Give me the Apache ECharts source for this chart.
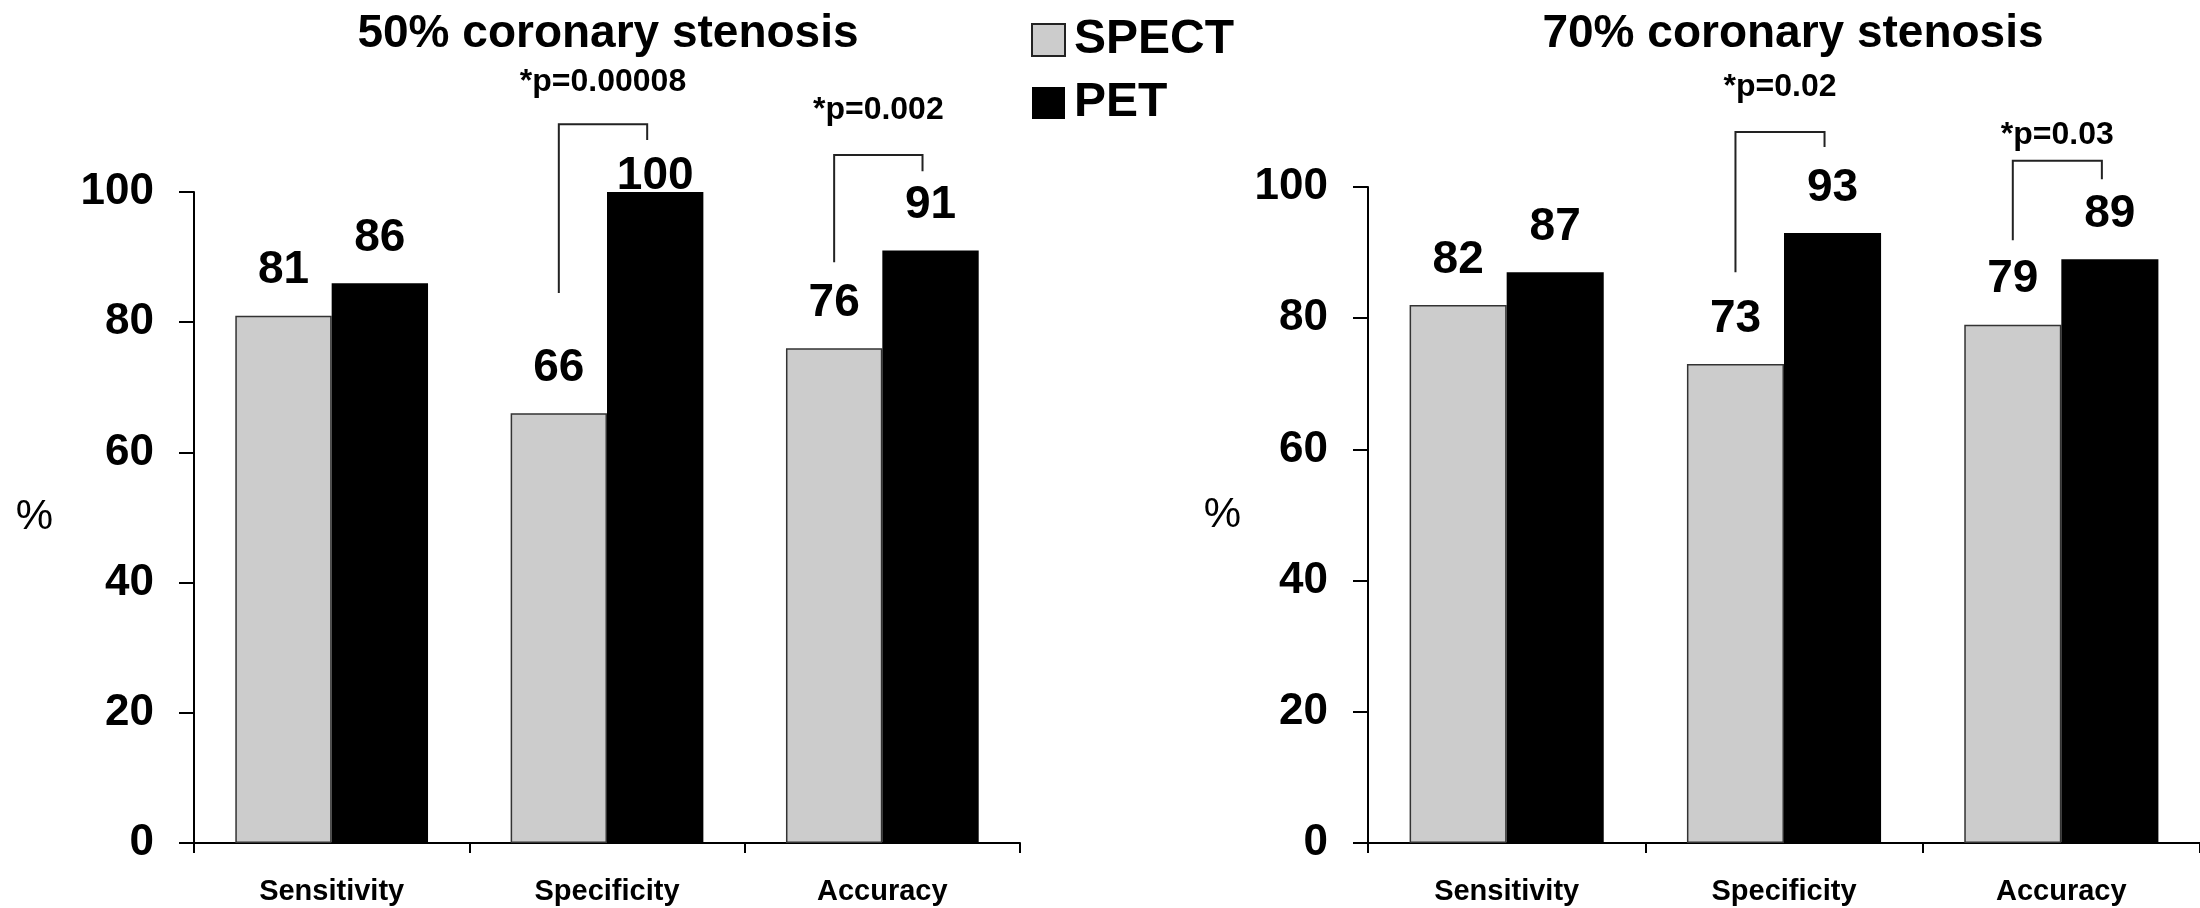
<!DOCTYPE html>
<html>
<head>
<meta charset="utf-8">
<script src="https://cdn.jsdelivr.net/npm/echarts@6/dist/echarts.min.js"></script>
<style>
  html, body { margin: 0; padding: 0; background: #fff; }
  #chart { width: 2200px; height: 908px; }
</style>
</head>
<body>
<div id="chart"></div>
<script>
// ---- data ----
const categories = ['Sensitivity', 'Specificity', 'Accuracy'];
const titles = ['50% coronary stenosis', '70% coronary stenosis'];
const seriesNames = ['SPECT', 'PET'];
const spect50 = [81, 66, 76];
const pet50 = [86, 100, 91];
const spect70 = [82, 73, 79];
const pet70 = [87, 93, 89];
const yTickMax = 100;
const yTickStep = 20;
// brackets: [categoryIndex, leftBottom, top, rightBottom, textY] in value units
const brackets50 = [[1, 84.5, 110.4, 108.0, 116.9], [2, 89.2, 105.7, 103.2, 112.6]];
const pLabels50 = ['*p=0.00008', '*p=0.002'];
const brackets70 = [[1, 87.0, 108.4, 106.1, 115.2], [2, 91.9, 104.0, 101.2, 107.9]];
const pLabels70 = ['*p=0.02', '*p=0.03'];

const FONT = '"Liberation Sans", Arial, Helvetica, sans-serif';
const SPECT_COLOR = '#cccccc';
const PET_COLOR = '#000000';

const chart = echarts.init(document.getElementById('chart'), null, { renderer: 'canvas' });

function valueLabel(values) {
  return values.map(v => v >= yTickMax
    ? { value: v, label: { distance: -7 } }
    : v);
}

function makeBracketSeries(brackets, labels, axisIdx) {
  return {
    type: 'custom',
    xAxisIndex: axisIdx,
    yAxisIndex: axisIdx,
    clip: false,
    silent: true,
    z: 5,
    data: brackets,
    renderItem: function (params, api) {
      const cat = api.value(0);
      const c = api.coord([cat, 0]);
      const bandW = api.size([1, 0])[0];
      const xL = c[0] - bandW * 0.175;
      const xR = c[0] + bandW * 0.175 - 8;
      const yLB = api.coord([cat, api.value(1)])[1];
      const yT = api.coord([cat, api.value(2)])[1];
      const yRB = api.coord([cat, api.value(3)])[1];
      const yTxt = api.coord([cat, api.value(4)])[1];
      return {
        type: 'group',
        children: [
          {
            type: 'polyline',
            shape: { points: [[xL, yLB], [xL, yT], [xR, yT], [xR, yRB]] },
            style: { stroke: '#222', lineWidth: 2, fill: null }
          },
          {
            type: 'text',
            x: (xL + xR) / 2,
            y: yTxt,
            style: {
              text: labels[params.dataIndex],
              font: 'bold 32px ' + FONT,
              fill: '#000',
              align: 'center',
              verticalAlign: 'middle'
            }
          }
        ]
      };
    }
  };
}

const commonX = {
  type: 'category',
  data: categories,
  boundaryGap: true,
  axisLine: { show: true, lineStyle: { color: '#000', width: 2 } },
  axisTick: { show: true, length: 10, lineStyle: { color: '#000', width: 2 } },
  axisLabel: { color: '#000', fontFamily: FONT, fontWeight: 'bold', fontSize: 29, margin: 34 },
  splitLine: { show: false }
};

function yAxis(gridIndex, nameGap, namePadding) {
  return {
    type: 'value',
    gridIndex: gridIndex,
    min: 0,
    max: yTickMax,
    interval: yTickStep,
    name: '%',
    nameLocation: 'middle',
    nameRotate: 0,
    nameGap: nameGap,
    nameTextStyle: { color: '#000', fontFamily: FONT, fontSize: 42, padding: namePadding },
    axisLine: { show: true, lineStyle: { color: '#000', width: 2 } },
    axisTick: { show: true, length: 15, lineStyle: { color: '#000', width: 2 } },
    axisLabel: { color: '#000', fontFamily: FONT, fontWeight: 'bold', fontSize: 44, margin: 40 },
    splitLine: { show: false }
  };
}

const barLabel = {
  show: true,
  position: 'top',
  distance: 22,
  color: '#000',
  fontFamily: FONT,
  fontWeight: 'bold',
  fontSize: 46
};

const option = {
  backgroundColor: '#fff',
  animation: false,
  title: [
    { text: titles[0], left: 603, top: 6, textAlign: 'center',
      textStyle: { color: '#000', fontFamily: FONT, fontWeight: 'bold', fontSize: 46 } },
    { text: titles[1], left: 1788, top: 6, textAlign: 'center',
      textStyle: { color: '#000', fontFamily: FONT, fontWeight: 'bold', fontSize: 46 } }
  ],
  legend: {
    left: 1031,
    top: 16,
    orient: 'vertical',
    itemWidth: 33,
    itemHeight: 32,
    itemGap: 15,
    padding: 0,
    icon: 'rect',
    selectedMode: false,
    textStyle: { color: '#000', fontFamily: FONT, fontWeight: 'bold', fontSize: 48, padding: [0, 0, 0, 4] },
    data: [
      { name: seriesNames[0], itemStyle: { color: SPECT_COLOR, borderColor: '#222', borderWidth: 2 } },
      { name: seriesNames[1], itemStyle: { color: PET_COLOR } }
    ]
  },
  grid: [
    { left: 194, top: 192, width: 826, height: 651 },
    { left: 1368, top: 187, width: 836, height: 656 }
  ],
  xAxis: [
    Object.assign({ gridIndex: 0 }, commonX),
    Object.assign({ gridIndex: 1 }, commonX)
  ],
  yAxis: [
    yAxis(0, 141, [0, 0, 0, 0]),
    yAxis(1, 127, [0, 0, 30, 0])
  ],
  series: [
    { name: seriesNames[0], type: 'bar', xAxisIndex: 0, yAxisIndex: 0, data: valueLabel(spect50),
      barGap: '0%', barCategoryGap: '30%',
      itemStyle: { color: SPECT_COLOR, borderColor: '#333', borderWidth: 1.5 }, label: barLabel },
    { name: seriesNames[1], type: 'bar', xAxisIndex: 0, yAxisIndex: 0, data: valueLabel(pet50),
      barGap: '0%', barCategoryGap: '30%',
      itemStyle: { color: PET_COLOR }, label: barLabel },
    { name: seriesNames[0], type: 'bar', xAxisIndex: 1, yAxisIndex: 1, data: valueLabel(spect70),
      barGap: '0%', barCategoryGap: '30%',
      itemStyle: { color: SPECT_COLOR, borderColor: '#333', borderWidth: 1.5 }, label: barLabel },
    { name: seriesNames[1], type: 'bar', xAxisIndex: 1, yAxisIndex: 1, data: valueLabel(pet70),
      barGap: '0%', barCategoryGap: '30%',
      itemStyle: { color: PET_COLOR }, label: barLabel },
    makeBracketSeries(brackets50, pLabels50, 0),
    makeBracketSeries(brackets70, pLabels70, 1)
  ]
};

chart.setOption(option);
</script>
</body>
</html>
